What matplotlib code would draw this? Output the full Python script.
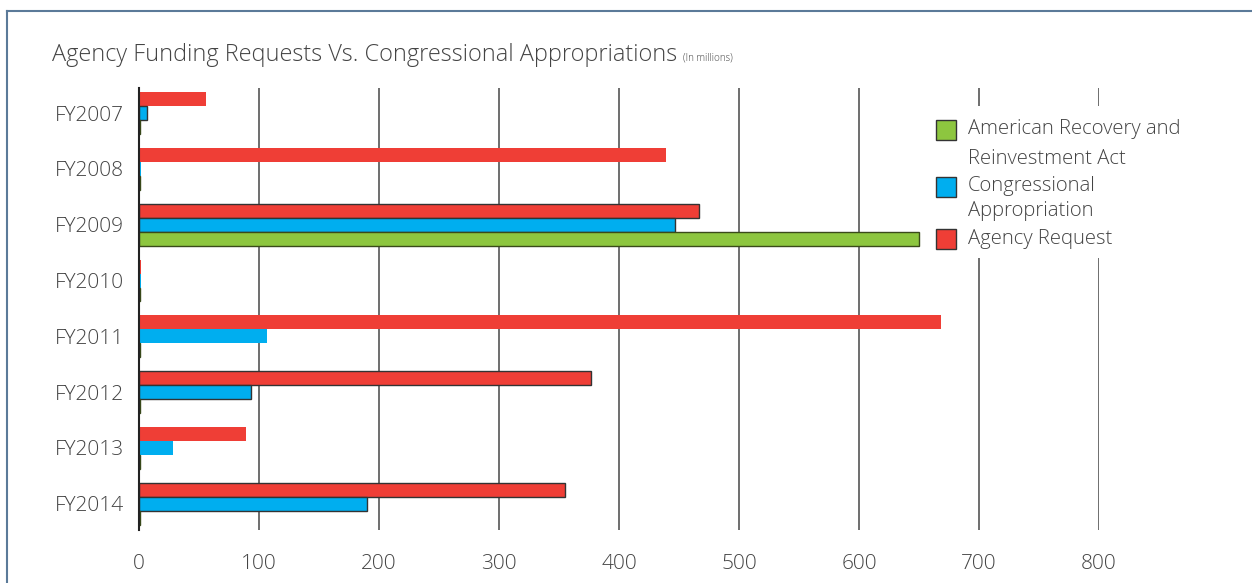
import numpy as np
import matplotlib.pyplot as plt
from matplotlib.lines import Line2D
from matplotlib.patches import Rectangle

plt.rcParams['font.family'] = ['Open Sans', 'DejaVu Sans']
plt.rcParams['font.weight'] = 'light'

years = ['FY2007', 'FY2008', 'FY2009', 'FY2010', 'FY2011', 'FY2012', 'FY2013', 'FY2014']
agency_request = [56, 439, 467, 1.5, 668, 377, 89, 355]
congressional = [7, 1.5, 447, 1.5, 107, 93, 28, 190]
recovery_act = [1, 1, 650, 1, 1, 1, 1, 1]
legend_labels = ['American Recovery and\nReinvestment Act', 'Congressional\nAppropriation', 'Agency Request']

RED = '#ef3e36'
BLUE = '#00aeef'
GREEN = '#8dc63f'
TEXT = '#444444'


def main():
    fig = plt.figure(figsize=(12.52, 5.83), dpi=100)
    ax = fig.add_axes([0.111, 0.091, 0.7668, 0.758])

    y = np.arange(len(years))
    h = 0.25
    # edges only on some groups, like the original
    edged = [False, False, True, False, False, True, False, True]
    ec_red = ['#333333' if e else 'none' for e in edged]
    ec_blue = ['#333333' if (e or i == 0) else 'none' for i, e in enumerate(edged)]

    ax.barh(y - h, agency_request, h, color=RED, edgecolor=ec_red, linewidth=1, zorder=3)
    ax.barh(y, congressional, h, color=BLUE, edgecolor=ec_blue, linewidth=1, zorder=3)
    ax.barh(y + h, recovery_act, h, color=GREEN, edgecolor='#3a4a1a', linewidth=1, zorder=3)

    ax.set_xlim(0, 800)
    ax.set_ylim(len(years) - 1 + 0.47, -0.45)
    ax.set_xticks(np.arange(0, 900, 100))
    ax.set_yticks(y)
    ax.set_yticklabels(years)
    ax.tick_params(length=0, labelsize=15, labelcolor=TEXT)
    ax.tick_params(axis='x', pad=17)
    ax.tick_params(axis='y', pad=11)

    ax.grid(axis='x', color='#6e6e6e', linewidth=1.4, zorder=0)
    ax.set_axisbelow(True)
    for s in ['top', 'right', 'bottom']:
        ax.spines[s].set_visible(False)
    ax.spines['left'].set_color('#222222')
    ax.spines['left'].set_linewidth(1.5)
    ax.spines['left'].set_zorder(4)

    # legend, drawn by hand so the squares line up with the first text line
    W, H = 1252.0, 583.0
    # white box behind the legend hides the grid lines
    fig.add_artist(Rectangle((925 / W, 1 - 258 / H), 280 / W, 152 / H,
                             facecolor='white', edgecolor='none',
                             transform=fig.transFigure))
    sq_top = [120, 177, 229]
    line_y = [[129, 159], [186, 211], [239]]
    for c, top, lab, ly in zip([GREEN, BLUE, RED], sq_top, legend_labels, line_y):
        fig.add_artist(Rectangle((936 / W, 1 - (top + 20) / H), 20 / W, 20 / H,
                                 facecolor=c, edgecolor='#333333', linewidth=1,
                                 transform=fig.transFigure))
        for txt, yy in zip(lab.split('\n'), ly):
            fig.text(968 / W, 1 - yy / H, txt, fontsize=14.6, color=TEXT, va='center')

    # title
    fig.text(52 / W, 1 - 55 / H, 'Agency Funding Requests Vs. Congressional Appropriations',
             fontsize=16.9, color=TEXT, va='center')
    fig.text(683 / W, 1 - 58 / H, '(In millions)', fontsize=7, color=TEXT, va='center')

    # frame lines top and left
    fig.add_artist(Line2D([7 / W, 7 / W], [0, 1 - 11 / H], color='#5b7a99', linewidth=1.5,
                          transform=fig.transFigure))
    fig.add_artist(Line2D([7 / W, 1.0], [1 - 11 / H, 1 - 11 / H], color='#5b7a99', linewidth=1.5,
                          transform=fig.transFigure))

    fig.savefig('out.png', dpi=100)


if __name__ == "__main__":
    main()
